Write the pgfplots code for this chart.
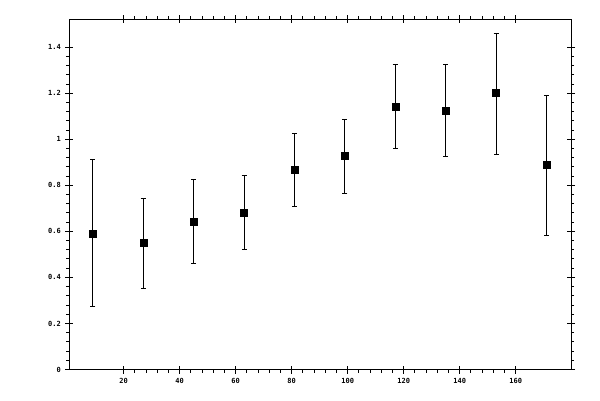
\documentclass[border=0pt]{standalone}
\usepackage{pgfplots}
\pgfplotsset{compat=1.18}
\usepackage{pgfplotstable}
\usepackage{fontspec}
\setmainfont{DejaVu Sans Mono}
\pgfplotstableread{
x y ep em
9 0.592 0.320 0.320
27 0.549 0.194 0.195
45 0.644 0.181 0.182
63 0.683 0.161 0.160
81 0.866 0.159 0.157
99 0.927 0.161 0.161
117 1.140 0.183 0.178
135 1.123 0.200 0.199
153 1.201 0.259 0.265
171 0.888 0.302 0.305
}\datatab
\pgfplotsset{
  base/.style={
    at={(0,0)}, anchor=south west,
    scale only axis, width=501.8pt, height=350.4pt,
    xmin=0.6, xmax=179.8, ymin=0, ymax=1.522,
    xtick={20,40,60,80,100,120,140,160},
    ytick={0,0.2,0.4,0.6,0.8,1,1.2,1.4},
    every tick/.style={black, line width=1pt},
  }
}
\begin{document}
\begin{tikzpicture}
\useasboundingbox (-69.3pt,-30.5pt) rectangle (530.7pt,369.5pt);
\begin{axis}[
  base,
  minor x tick num=4, minor y tick num=4,
  tick align=outside, major tick length=4pt, minor tick length=3pt,
  axis line style={line width=1pt},
  ticklabel style={font=\bfseries\fontsize{7}{8}\selectfont},
  xticklabel style={yshift=-1pt},
  yticklabel style={xshift=-1pt},
  /pgf/number format/assume math mode=true,
]
\addplot[black, only marks, mark=square*, mark size=3.5pt,
  error bars/.cd, y dir=both, y explicit,
  error bar style={line width=1pt, black},
  error mark options={black, line width=1pt, mark size=2.5pt, rotate=90}]
  table[x=x, y=y, y error plus=ep, y error minus=em] {\datatab};
\end{axis}
\begin{axis}[
  base,
  tick align=inside, major tick length=4pt,
  axis line style={draw=none},
  xticklabels={}, yticklabels={},
]
\addplot[draw=none] coordinates {(9,0.592)};
\end{axis}
\end{tikzpicture}
\end{document}
